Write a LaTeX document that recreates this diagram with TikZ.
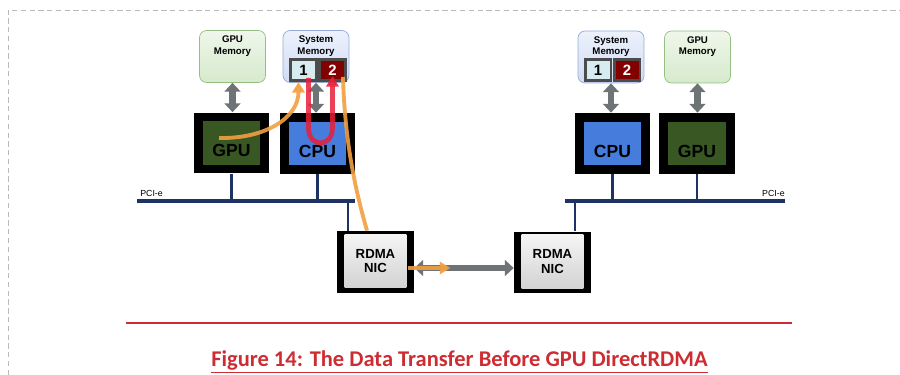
\documentclass[tikz,border=0pt]{standalone}
\usepackage{fontspec}
\setmainfont{Liberation Sans}
\newfontfamily\capfont{Carlito}
\usetikzlibrary{arrows.meta}
\definecolor{gmemfill}{RGB}{214,234,204}
\definecolor{gmemdraw}{RGB}{150,190,130}
\definecolor{smemfill}{RGB}{208,220,245}
\definecolor{smemdraw}{RGB}{150,170,215}
\definecolor{gpugreen}{RGB}{56,87,35}
\definecolor{cpublue}{RGB}{70,125,220}
\definecolor{cellone}{RGB}{215,236,240}
\definecolor{celltwo}{RGB}{130,0,0}
\definecolor{busblue}{RGB}{30,50,100}
\definecolor{linkgray}{RGB}{110,115,118}
\definecolor{flowor}{RGB}{242,160,65}
\definecolor{flowred}{RGB}{232,30,55}
\definecolor{capred}{RGB}{205,45,50}

\begin{document}
\begin{tikzpicture}[x=0.02cm, y=-0.02cm, >=latex,
    mem/.style={rounded corners=4pt, minimum width=1.32cm, minimum height=1.04cm, inner sep=0pt},
    gmem/.style={mem, draw=gmemdraw, top color=gmemfill!40!white, bottom color=gmemfill},
    smem/.style={mem, draw=smemdraw, top color=smemfill!40!white, bottom color=smemfill},
    memtxt/.style={anchor=north, align=center, inner sep=0pt, yshift=-3pt, font=\bfseries\fontsize{5.5}{6.6}\selectfont},
    cell/.style={draw=black!70, line width=1.7pt, minimum width=0.52cm, minimum height=0.42cm, inner sep=0pt, font=\bfseries\fontsize{8.5}{9}\selectfont},
    frame/.style={fill=black, minimum width=1.52cm, minimum height=1.22cm, inner sep=0pt},
    core/.style={minimum width=1.16cm, minimum height=0.88cm, inner sep=0pt},
    chip/.style={inner sep=0pt, yshift=-4.5pt, font=\bfseries\fontsize{10}{11}\selectfont},
    nicbox/.style={fill=black, minimum width=1.54cm, minimum height=1.24cm, inner sep=0pt},
    nicface/.style={top color=gray!8, bottom color=gray!35, minimum width=1.24cm, minimum height=1.08cm, inner sep=0pt, align=center, font=\bfseries\fontsize{7.5}{8.4}\selectfont},
    bus/.style={draw=busblue, line width=2.2pt},
    drop/.style={draw=busblue, line width=1.2pt},
    link/.style={draw=linkgray, line width=3.6pt, {Triangle[width=9pt,length=5pt]}-{Triangle[width=9pt,length=5pt]}},
    flow/.style={draw=flowor, line width=2.2pt, opacity=0.9},
    back/.style={draw=flowred, line width=2.7pt, opacity=0.85},
    pcitxt/.style={inner sep=0pt, font=\fontsize{5}{6}\selectfont}]
        \useasboundingbox (0,0) rectangle (900,375);
        \path
        % memories, left host
        +(232.5,56.5) node[gmem] (gmem1) {}
        +(316,56.5) node[smem] (smem1) {}
        +(303.5,70) node[cell, fill=cellone] (s11) {1}
        +(332.5,70) node[cell, fill=celltwo, text=white] (s12) {2}
        % memories, right host
        +(611,57) node[smem] (smem2) {}
        +(697.5,57) node[gmem] (gmem2) {}
        +(598,70) node[cell, fill=cellone] (s21) {1}
        +(627,70) node[cell, fill=celltwo, text=white] (s22) {2}
        % chips
        +(231.5,143) node[frame] (g1) {}
        +(317.5,143.5) node[frame] (c1) {}
        +(612.5,143.5) node[frame] (c2) {}
        +(697,143.5) node[frame] (g2) {}
        % network cards
        +(375.5,262) node[nicbox] (n1) {}
        +(552.5,262.5) node[nicbox] (n2) {};

        \node[memtxt] (gmem1t) at (gmem1.north) {GPU\\Memory};
        \node[memtxt] (smem1t) at (smem1.north) {System\\Memory};
        \node[memtxt] (smem2t) at (smem2.north) {System\\Memory};
        \node[memtxt] (gmem2t) at (gmem2.north) {GPU\\Memory};

        \node[core, fill=gpugreen] (g1c) at (g1) {};
        \node[core, fill=cpublue] (c1c) at (c1) {};
        \node[core, fill=cpublue] (c2c) at (c2) {};
        \node[core, fill=gpugreen] (g2c) at (g2) {};
        \node[chip] (g1t) at (g1) {GPU};
        \node[chip] (c1t) at (c1) {CPU};
        \node[chip] (c2t) at (c2) {CPU};
        \node[chip] (g2t) at (g2) {GPU};

        \node[nicface] (n1f) at ([yshift=0.02cm]n1.center) {RDMA\\NIC};
        \node[nicface] (n2f) at ([yshift=0.02cm]n2.center) {RDMA\\NIC};

        % PCI-e buses
        \coordinate (b1w) at (137,201);
        \coordinate (b1e) at (355,201);
        \coordinate (b2w) at (565,201);
        \coordinate (b2e) at (785,201);
        \draw[drop] (g1.south) -- (g1.south |- b1w);
        \draw[drop] (c1.south) -- (c1.south |- b1w);
        \draw[drop] ([xshift=-0.55cm]n1.north) -- ([xshift=-0.55cm]n1.north |- b1w);
        \draw[drop] (c2.south) -- (c2.south |- b2w);
        \draw[drop] (g2.south) -- (g2.south |- b2w);
        \draw[drop] ([xshift=0.45cm]n2.north) -- ([xshift=0.45cm]n2.north |- b2w);
        \draw[bus] (b1w) -- (b1e);
        \draw[bus] (b2w) -- (b2e);
        \node[pcitxt, anchor=south west] (pci1) at ([xshift=0.06cm, yshift=2.5pt]b1w) {PCI-e};
        \node[pcitxt, anchor=south east] (pci2) at ([yshift=2.5pt]b2e) {PCI-e};

        % memory links and the wire
        \draw[link] (gmem1.south) -- (gmem1.south |- g1.north);
        \draw[link] (smem1.south) -- (smem1.south |- c1.north);
        \draw[link] (smem2.south) -- (smem2.south |- c2.north);
        \draw[link] (gmem2.south) -- (gmem2.south |- g2.north);
        \coordinate (w1) at ([yshift=-0.12cm]n1.east);
        \draw[link] (w1) -- (w1 -| n2.west);

        % data path
        \draw[flow, -{Triangle[width=7pt,length=6pt]}] ([xshift=-0.25cm,yshift=0.1cm]g1.center) .. controls +(46,1) and +(0,36) .. ([xshift=-0.1cm]s11.south);
        \draw[flow] ([xshift=-0.08cm,yshift=0.1cm]s12.south east) .. controls +(2,70) and +(-10,-35) .. ([xshift=-0.17cm]n1.north);
        \draw[flow, -{Triangle[width=7pt,length=6pt]}] ([xshift=-0.12cm]w1) -- ([xshift=0.72cm]w1);
        \draw[back, -{Triangle[width=7pt,length=6pt]}] ([xshift=0.1cm,yshift=0.08cm]s11.south) -- ++(0,50) .. controls +(0,20) and +(0,20) .. ++(24,0) -- ([yshift=0.12cm]s12.south);

        % frame and caption
        \draw[gray!55, dash pattern=on 3pt off 2pt, line width=0.4pt] (8,375) -- (8,10) -- (900,10);
        \draw[capred, line width=1.1pt] (126,323) -- (792,323);
        \node[text=capred, font=\capfont\bfseries\fontsize{12.8}{15}\selectfont] (cap) at (459.5,362) {\underline{Figure 14: The Data Transfer Before GPU DirectRDMA}};
    \end{tikzpicture}
\end{document}
